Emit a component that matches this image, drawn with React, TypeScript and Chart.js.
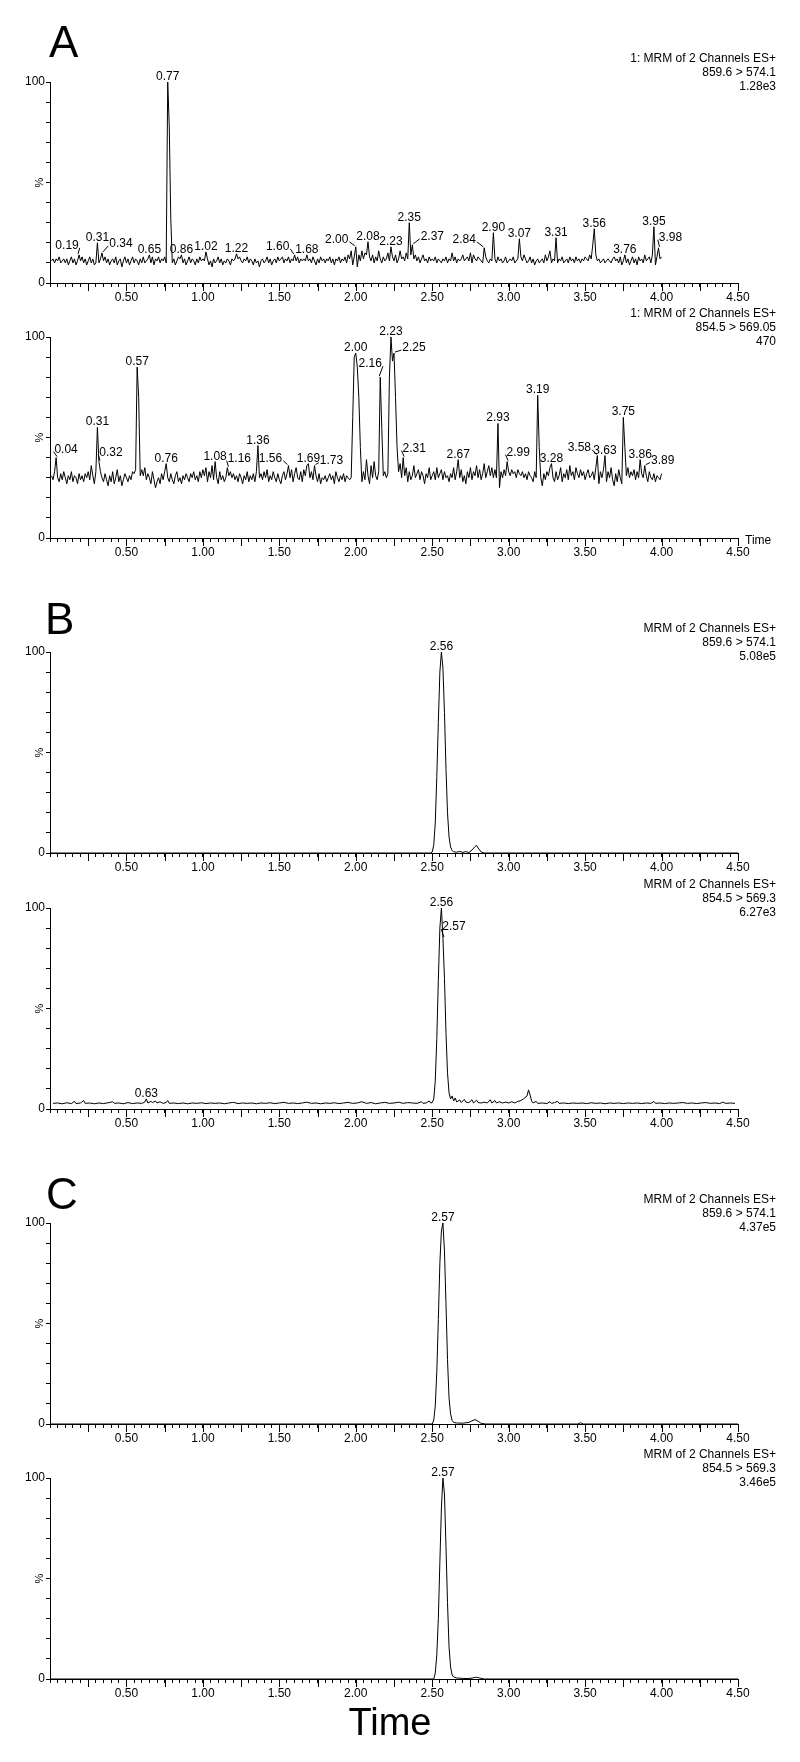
import React, { useEffect, useRef } from 'react';
import { Chart, registerables } from 'chart.js';

Chart.register(...registerables);

const FONT = '"Liberation Sans", Arial, Helvetica, sans-serif';

// ---------------- shared axes ----------------
const X_MIN = 0;
const X_MAX = 4.5;
const X_MINOR_STEP = 0.05;
const X_MID_STEP = 0.25;
const Y_MIN = 0;
const Y_MAX = 100;
const Y_STEP = 10;

// ---------------- panel A : sampled every 0.01 min, 0.01 .. 4.00 ----------------
const A_FIRST_TIME = 0.01;
const A_TIME_STEP = 0.01;

const A1_VALUES = [
  11, 12, 10, 12, 11, 13, 10, 11, 12, 10,
  12, 9, 11, 13, 10, 12, 9, 11, 14, 11,
  13, 10, 12, 9, 11, 13, 10, 12, 9, 10,
  20, 10, 12, 15, 11, 13, 10, 12, 9, 11,
  12, 10, 13, 9, 11, 12, 8, 11, 13, 10,
  12, 9, 11, 13, 10, 12, 11, 9, 12, 10,
  13, 10, 11, 12, 14, 10, 13, 9, 12, 11,
  13, 10, 12, 11, 13, 10, 100, 78, 32, 10,
  12, 9, 11, 13, 12, 14, 10, 12, 9, 11,
  13, 10, 12, 11, 9, 12, 10, 13, 11, 12,
  11, 15.5, 12, 9, 11, 8, 12, 10, 11, 13,
  10, 12, 9, 11, 10, 12, 11, 9, 12, 11,
  12, 14.5, 12, 13, 11, 10, 12, 11, 13, 10,
  12, 11, 9, 12, 10, 11, 8, 11, 12, 10,
  11, 13, 10, 12, 9, 11, 12, 10, 13, 11,
  12, 13, 10, 12, 11, 13, 10, 12, 11, 14,
  11, 13, 10, 12, 11, 12, 11, 14, 11, 12,
  10, 13, 11, 9, 12, 10, 13, 11, 12, 10,
  12, 11, 13, 10, 12, 9, 12, 11, 13, 10,
  12, 11, 13, 10, 14, 12, 16, 9, 13, 18,
  8, 14, 11, 16, 12, 15, 14, 20.5, 13, 11,
  14, 10, 13, 11, 16, 12, 10, 13, 11, 12,
  15, 11, 18, 13, 11, 14, 10, 12, 16, 12,
  13, 11, 15, 12, 30, 14, 19, 12, 14, 11,
  13, 10, 12, 14, 11, 12, 10, 13, 11, 12,
  11, 13, 10, 12, 11, 10, 12, 11, 13, 10,
  12, 11, 15, 11, 13, 10, 12, 11, 12, 14,
  11, 12, 13, 11, 15, 10, 14, 12, 11, 13,
  12, 11, 10, 17.5, 13, 11, 10, 12, 11, 25,
  12, 10, 13, 11, 12, 10, 11, 13, 10, 11,
  12, 11, 13, 10, 11, 12, 22, 13, 11, 14,
  12, 10, 11, 13, 10, 12, 9, 11, 12, 10,
  11, 12, 10, 14, 11, 13, 16, 10, 12, 11,
  22.5, 10, 12, 11, 13, 10, 11, 12, 10, 13,
  11, 12, 10, 13, 11, 12, 10, 12, 11, 13,
  12, 11, 14, 12, 19, 27, 14, 11, 12, 10,
  11, 12, 10, 11, 12, 11, 10, 12, 13, 11,
  12, 10, 13, 9, 11, 14, 10, 12, 9, 11,
  13, 10, 12, 9, 13, 11, 12, 10, 14, 11,
  12, 13, 10, 14, 28, 9, 13, 17.5, 12, 13,
];

const A2_VALUES = [
  31, 29, 33, 40, 30, 28, 32, 29, 33, 30,
  27, 31, 29, 33, 28, 31, 30, 27, 32, 29,
  31, 28, 32, 30, 33, 29, 36, 31, 27, 33,
  55, 38, 33, 30, 28, 32, 29, 26, 31, 28,
  33, 27, 30, 34, 28, 31, 26, 29, 32, 30,
  28, 31, 29, 33, 32, 34, 85, 70, 31, 34,
  31, 35, 29, 32, 30, 27, 33, 29, 25, 28,
  30, 27, 32, 29, 33, 37, 30, 28, 32, 29,
  27, 31, 33, 28, 30, 27, 31, 29, 32, 30,
  28, 32, 30, 33, 29, 31, 28, 33, 30, 34,
  31, 35, 28, 33, 30, 36, 29, 38, 30, 27,
  33, 29, 31, 28, 30, 35, 31, 33, 30, 32,
  29, 31, 28, 32, 30, 27, 31, 29, 33, 28,
  31, 29, 32, 28, 33, 46, 30, 32, 29, 33,
  30, 34, 28, 31, 29, 33, 30, 28, 32, 29,
  27, 31, 33, 29, 32, 36, 30, 34, 28, 32,
  35, 30, 29, 33, 28, 34, 31, 36, 37, 30,
  33, 29, 36, 31, 28, 32, 27, 30, 29, 31,
  28, 30, 32, 29, 31, 27, 33, 30, 28, 31,
  29, 32, 28, 31, 30, 29, 30, 60, 90, 92,
  85, 70, 45, 28, 33, 29, 39, 31, 27, 36,
  30, 38, 31, 29, 33, 80, 55, 31, 33, 30,
  32, 80, 100, 88, 92, 70, 45, 33, 37, 30,
  40, 31, 35, 28, 33, 29, 31, 36, 30, 32,
  34, 29, 33, 31, 27, 32, 30, 35, 29, 31,
  33, 29, 35, 30, 32, 34, 29, 33, 30, 31,
  28, 32, 30, 35, 29, 33, 39, 30, 34, 28,
  31, 27, 33, 30, 35, 29, 33, 31, 36, 30,
  34, 29, 32, 37, 30, 33, 36, 31, 35, 30,
  34, 30, 57, 25, 33, 30, 34, 31, 38, 33,
  31, 34, 32, 33, 30, 34, 32, 31, 33, 30,
  32, 29, 33, 31, 30, 28, 33, 30, 71, 45,
  30, 26, 32, 29, 33, 31, 35, 37, 30, 28,
  33, 29, 31, 35, 28, 32, 30, 34, 29, 36,
  31, 33, 29, 35, 32, 30, 34, 31, 33, 29,
  32, 34, 30, 31, 33, 29, 35, 41, 27, 33,
  30, 34, 41, 28, 33, 30, 35, 29, 26, 32,
  28, 34, 30, 27, 60, 45, 31, 35, 30, 33,
  31, 34, 29, 33, 30, 39, 32, 30, 36, 31,
  28, 33, 30, 29, 32, 28, 31, 30, 29, 32,
];

const A1_PEAK_LABELS = ['0.19', '0.31', '0.34', '0.65', '0.77', '0.86', '1.02', '1.22', '1.60', '1.68', '2.00', '2.08', '2.23', '2.35', '2.37', '2.84', '2.90', '3.07', '3.31', '3.56', '3.76', '3.95', '3.98'];
const A2_PEAK_LABELS = ['0.04', '0.31', '0.32', '0.57', '0.76', '1.08', '1.16', '1.36', '1.56', '1.69', '1.73', '2.00', '2.16', '2.23', '2.25', '2.31', '2.67', '2.93', '2.99', '3.19', '3.28', '3.58', '3.63', '3.75', '3.86', '3.89'];

const A1_INFO = ['1: MRM of 2 Channels ES+', '859.6 > 574.1', '1.28e3'];
const A2_INFO = ['1: MRM of 2 Channels ES+', '854.5 > 569.05', '470'];

// ---------------- panel B ----------------
const B1_TIMES = [0, 2.49, 2.50, 2.51, 2.52, 2.53, 2.54, 2.55, 2.56, 2.57, 2.58, 2.59, 2.60, 2.61, 2.62, 2.63, 2.64, 2.66, 2.68, 2.70, 2.72, 2.74, 2.76, 2.78, 2.79, 2.80, 2.82, 2.84, 4.5];
const B1_VALUES = [0, 0, 0.5, 4, 15, 38, 65, 90, 100, 92, 70, 42, 20, 8, 3, 1.2, 0.6, 0.4, 0.8, 0.3, 0.7, 0.2, 1.5, 3.2, 3.8, 2.5, 0.5, 0, 0];

const B2_TIMES = [
  0.02, 0.05, 0.08, 0.11, 0.14, 0.16, 0.17, 0.20, 0.22, 0.23,
  0.26, 0.29, 0.32, 0.35, 0.38, 0.41, 0.42, 0.45, 0.48, 0.51,
  0.54, 0.57, 0.60, 0.62, 0.63, 0.64, 0.66, 0.67, 0.69, 0.70,
  0.72, 0.74, 0.76, 0.77, 0.78, 0.81, 0.84, 0.87, 0.90, 0.93,
  0.96, 0.99, 1.02, 1.05, 1.08, 1.11, 1.14, 1.17, 1.20, 1.23,
  1.26, 1.29, 1.32, 1.35, 1.38, 1.41, 1.44, 1.47, 1.50, 1.53,
  1.56, 1.59, 1.62, 1.65, 1.68, 1.71, 1.74, 1.77, 1.80, 1.83,
  1.86, 1.89, 1.92, 1.95, 1.98, 2.01, 2.04, 2.07, 2.10, 2.13,
  2.16, 2.19, 2.22, 2.25, 2.28, 2.31, 2.34, 2.37, 2.40, 2.43,
  2.44, 2.46, 2.48, 2.49, 2.50, 2.51, 2.52, 2.53, 2.54, 2.55,
  2.56, 2.57, 2.58, 2.59, 2.60, 2.61, 2.62, 2.63, 2.64, 2.65,
  2.66, 2.68, 2.69, 2.71, 2.72, 2.74, 2.76, 2.77, 2.79, 2.80,
  2.82, 2.84, 2.86, 2.88, 2.89, 2.91, 2.92, 2.94, 2.96, 2.98,
  3.00, 3.02, 3.04, 3.06, 3.08, 3.10, 3.12, 3.13, 3.14, 3.15,
  3.16, 3.18, 3.19, 3.22, 3.25, 3.27, 3.28, 3.30, 3.32, 3.33,
  3.36, 3.39, 3.42, 3.45, 3.48, 3.51, 3.54, 3.57, 3.60, 3.63,
  3.66, 3.69, 3.72, 3.75, 3.78, 3.81, 3.84, 3.87, 3.90, 3.93,
  3.95, 3.96, 3.99, 4.02, 4.05, 4.08, 4.11, 4.14, 4.17, 4.20,
  4.23, 4.26, 4.29, 4.32, 4.35, 4.38, 4.40, 4.42, 4.45, 4.48,
];
const B2_VALUES = [
  2.8, 3.0, 2.6, 3.1, 2.7, 3.8, 2.7, 3.0, 4.2, 2.8,
  3.0, 2.6, 3.0, 2.7, 3.1, 3.6, 2.8, 3.0, 2.6, 3.2,
  2.7, 3.0, 2.8, 3.4, 5.0, 3.0, 3.8, 3.2, 4.0, 3.0,
  3.6, 2.8, 3.2, 4.2, 2.8, 3.0, 2.7, 3.0, 2.6, 3.0,
  2.8, 3.1, 2.7, 3.0, 2.8, 3.0, 2.6, 3.0, 3.3, 2.7,
  3.0, 2.8, 3.0, 2.6, 3.0, 2.8, 3.1, 2.7, 3.0, 3.3,
  2.8, 3.0, 2.7, 3.0, 3.4, 2.8, 3.0, 2.6, 3.0, 2.8,
  3.1, 2.7, 3.0, 3.3, 2.8, 3.0, 3.6, 2.8, 3.2, 2.6,
  3.0, 3.3, 2.8, 3.0, 3.4, 2.8, 3.2, 3.0, 2.8, 3.6,
  2.8, 3.0, 4.0, 3.0, 3.2, 5, 14, 35, 64, 90,
  100, 85, 65, 38, 18, 8, 5, 6.5, 4, 5.5,
  3.5, 4.5, 3.2, 4.8, 3.4, 3.2, 4.6, 3.0, 4.4, 3.2,
  3.0, 3.4, 3.0, 4.6, 3.0, 4.2, 3.0, 3.6, 3.0, 3.4,
  3.0, 3.6, 3.0, 3.8, 4.2, 5.2, 6.5, 9.5, 7.0, 4.0,
  3.0, 3.8, 2.8, 3.0, 2.7, 3.6, 2.8, 3.2, 3.8, 2.8,
  3.0, 2.7, 3.0, 2.8, 3.0, 2.7, 3.1, 2.8, 3.0, 2.6,
  3.0, 2.8, 3.0, 2.7, 3.0, 2.8, 3.0, 2.7, 3.0, 2.8,
  3.8, 2.8, 3.0, 2.7, 3.0, 2.8, 3.0, 3.2, 2.8, 3.0,
  2.7, 3.0, 3.2, 2.8, 3.0, 2.7, 3.4, 2.8, 3.0, 2.8,
];

const B1_PEAK_LABELS = ['2.56'];
const B2_PEAK_LABELS = ['0.63', '2.56', '2.57'];
const B1_INFO = ['MRM of 2 Channels ES+', '859.6 > 574.1', '5.08e5'];
const B2_INFO = ['MRM of 2 Channels ES+', '854.5 > 569.3', '6.27e3'];

// ---------------- panel C ----------------
const C1_TIMES = [0, 2.50, 2.51, 2.52, 2.53, 2.54, 2.55, 2.56, 2.57, 2.58, 2.59, 2.60, 2.61, 2.62, 2.63, 2.64, 2.66, 2.70, 2.74, 2.76, 2.78, 2.80, 2.82, 2.85, 3.45, 3.47, 3.49, 4.5];
const C1_VALUES = [0, 0, 2, 9, 26, 52, 80, 96, 100, 86, 60, 32, 13, 5, 1.8, 0.8, 0.5, 0.4, 0.8, 1.6, 2.2, 1.4, 0.3, 0, 0, 0.6, 0, 0];
const C2_TIMES = [0, 2.51, 2.52, 2.53, 2.54, 2.55, 2.56, 2.57, 2.58, 2.59, 2.60, 2.61, 2.62, 2.63, 2.64, 2.66, 2.70, 2.74, 2.77, 2.79, 2.81, 2.84, 4.5];
const C2_VALUES = [0, 0, 3, 12, 30, 58, 85, 100, 92, 66, 38, 16, 6, 2, 1, 0.5, 0.3, 0.2, 0.6, 0.9, 0.5, 0, 0];

const C1_PEAK_LABELS = ['2.57'];
const C2_PEAK_LABELS = ['2.57'];
const C1_INFO = ['MRM of 2 Channels ES+', '859.6 > 574.1', '4.37e5'];
const C2_INFO = ['MRM of 2 Channels ES+', '854.5 > 569.3', '3.46e5'];

// ---------------- label placement (styling, px nudges) ----------------
const A1_LABEL_DX = [-12, 0, 19, 0, 0, 0, 0, 0, -17, 0, -19, 0, 0, 0, 20, -20, 0, 0, 0, 0, 0, 0, 12];
const A1_LABEL_DY = [4, 0, 4, 0, 0, 0, 0, 0, 3, 0, 2, 0, 0, 0, 3, 3, 0, 0, 0, 0, 0, 0, 5];
const A2_LABEL_DX = [10, 0, 12, 0, 0, 0, 12, 0, -18, 0, 17, 0, -10, 0, 20, 11, 0, 0, 11, 0, 0, -18, 0, 0, 0, 18];
const A2_LABEL_DY = [3, 0, 4, 0, 0, 0, 4, 0, 2, 0, 0, 0, 8, 0, 0, 4, 0, 0, 4, 0, 0, 3, 0, 0, 0, 0];

// ---------------- layout ----------------
const PLOT_LEFT = 50;
const PLOT_RIGHT = 738;
const PLOT_H = 201;
const PAD_TOP = 36;
const PAD_BOTTOM = 26;
const CANVAS_W = 800;
const CANVAS_H = PAD_TOP + PLOT_H + PAD_BOTTOM;

type PanelSpec = {
  key: string;
  y100: number;
  times: number[];
  values: number[];
  labels: string[];
  dx: number[];
  dy: number[];
  info: string[];
};

const aTimes = (vals: number[]) => vals.map((_, i) => +(A_FIRST_TIME + i * A_TIME_STEP).toFixed(2));
const zeros = (n: number) => new Array(n).fill(0);

const PANELS: PanelSpec[] = [
  { key: 'A1', y100: 82, times: aTimes(A1_VALUES), values: A1_VALUES, labels: A1_PEAK_LABELS, dx: A1_LABEL_DX, dy: A1_LABEL_DY, info: A1_INFO },
  { key: 'A2', y100: 337, times: aTimes(A2_VALUES), values: A2_VALUES, labels: A2_PEAK_LABELS, dx: A2_LABEL_DX, dy: A2_LABEL_DY, info: A2_INFO },
  { key: 'B1', y100: 652, times: B1_TIMES, values: B1_VALUES, labels: B1_PEAK_LABELS, dx: zeros(1), dy: zeros(1), info: B1_INFO },
  { key: 'B2', y100: 908, times: B2_TIMES, values: B2_VALUES, labels: B2_PEAK_LABELS, dx: [0, 0, 11], dy: [0, 0, 6], info: B2_INFO },
  { key: 'C1', y100: 1223, times: C1_TIMES, values: C1_VALUES, labels: C1_PEAK_LABELS, dx: zeros(1), dy: zeros(1), info: C1_INFO },
  { key: 'C2', y100: 1478, times: C2_TIMES, values: C2_VALUES, labels: C2_PEAK_LABELS, dx: zeros(1), dy: zeros(1), info: C2_INFO },
];

function valueAt(times: number[], values: number[], t: number) {
  let best = 0;
  for (let i = 1; i < times.length; i++) {
    if (Math.abs(times[i] - t) < Math.abs(times[best] - t)) best = i;
  }
  return values[best];
}

function makeDecor(p: PanelSpec) {
  return {
    id: 'decor-' + p.key,
    afterDraw(chart: any) {
      const ctx: CanvasRenderingContext2D = chart.ctx;
      const xs = chart.scales.x;
      const ys = chart.scales.y;
      const area = chart.chartArea;
      ctx.save();
      // longer tick marks every 0.25 min
      ctx.strokeStyle = '#000';
      ctx.lineWidth = 1;
      ctx.beginPath();
      for (let k = 1; k * X_MID_STEP <= X_MAX + 1e-9; k++) {
        const x = Math.round(xs.getPixelForValue(k * X_MID_STEP)) + 0.5;
        ctx.moveTo(x, area.bottom);
        ctx.lineTo(x, area.bottom + 8);
      }
      ctx.stroke();
      // rotated % axis label
      ctx.fillStyle = '#000';
      ctx.font = `11px ${FONT}`;
      ctx.translate(40, (area.top + area.bottom) / 2);
      ctx.rotate(-Math.PI / 2);
      ctx.textAlign = 'center';
      ctx.textBaseline = 'middle';
      ctx.fillText('%', 0, 0);
      ctx.restore();

      // peak labels
      ctx.save();
      ctx.font = `12px ${FONT}`;
      ctx.fillStyle = '#000';
      ctx.strokeStyle = '#000';
      ctx.lineWidth = 1;
      ctx.textAlign = 'center';
      ctx.textBaseline = 'alphabetic';
      p.labels.forEach((lab, i) => {
        const t = parseFloat(lab);
        const v = valueAt(p.times, p.values, t);
        const px = xs.getPixelForValue(t);
        const py = ys.getPixelForValue(v);
        const dx = p.dx[i] || 0;
        const dy = p.dy[i] || 0;
        const cx = px + dx;
        const by = py - 2 - dy;
        ctx.fillText(lab, cx, by);
        if (Math.abs(dx) >= 10) {
          const w = ctx.measureText(lab).width;
          const sx = dx > 0 ? cx - w / 2 - 1 : cx + w / 2 + 1;
          ctx.beginPath();
          ctx.moveTo(sx, by - 1);
          ctx.lineTo(px + (dx > 0 ? 1 : -1), py - 1);
          ctx.stroke();
        }
      });
      ctx.restore();
    },
  };
}

function PanelChart({ p }: { p: PanelSpec }) {
  const ref = useRef<HTMLCanvasElement>(null);
  useEffect(() => {
    const canvas = ref.current;
    if (!canvas) return;
    const points = p.times.map((t, i) => ({ x: t, y: p.values[i] }));
    const chart = new Chart(canvas, {
      type: 'line',
      data: {
        datasets: [
          {
            data: points,
            borderColor: '#000',
            borderWidth: 1,
            pointRadius: 0,
            tension: 0,
            fill: false,
          },
        ],
      },
      options: {
        responsive: false,
        maintainAspectRatio: false,
        animation: false,
        devicePixelRatio: 1,
        events: [],
        layout: { padding: { top: PAD_TOP, right: CANVAS_W - PLOT_RIGHT, left: 0, bottom: 0 } },
        plugins: { legend: { display: false }, tooltip: { enabled: false }, title: { display: false } },
        scales: {
          x: {
            type: 'linear',
            min: X_MIN,
            max: X_MAX,
            afterFit: (s: any) => {
              s.height = PAD_BOTTOM;
            },
            ticks: {
              stepSize: X_MINOR_STEP,
              autoSkip: false,
              maxRotation: 0,
              minRotation: 0,
              padding: 3,
              color: '#000',
              font: { family: FONT, size: 12 },
              callback: (v: any) => {
                const c = Math.round(Number(v) * 100);
                return c > 0 && c % 50 === 0 ? (c / 100).toFixed(2) : '';
              },
            },
            grid: { drawOnChartArea: false, drawTicks: true, tickLength: 4, tickColor: '#000', tickWidth: 1 },
            border: { display: true, color: '#000', width: 1 },
          },
          y: {
            type: 'linear',
            min: Y_MIN,
            max: Y_MAX,
            afterFit: (s: any) => {
              s.width = PLOT_LEFT;
            },
            ticks: {
              stepSize: Y_STEP,
              autoSkip: false,
              padding: 1,
              color: '#000',
              font: { family: FONT, size: 12 },
              callback: (v: any) => (Number(v) === 100 ? '100' : Number(v) === 0 ? '0' : ''),
            },
            grid: { drawOnChartArea: false, drawTicks: true, tickLength: 4, tickColor: '#000', tickWidth: 1 },
            border: { display: true, color: '#000', width: 1 },
          },
        },
      },
      plugins: [makeDecor(p)],
    } as any);
    return () => chart.destroy();
  }, [p]);
  return (
    <canvas
      ref={ref}
      width={CANVAS_W}
      height={CANVAS_H}
      style={{ position: 'absolute', left: 0, top: p.y100 - PAD_TOP, width: CANVAS_W, height: CANVAS_H }}
    />
  );
}

const LETTERS = [
  { text: 'A', left: 49, baseline: 57 },
  { text: 'B', left: 45, baseline: 634 },
  { text: 'C', left: 46, baseline: 1209 },
];

export default function App() {
  return (
    <div
      style={{
        position: 'absolute',
        left: 0,
        top: 0,
        width: 800,
        height: 1762,
        background: '#fff',
        fontFamily: FONT,
        color: '#000',
        overflow: 'hidden',
      }}
    >
      {PANELS.map((p) => (
        <PanelChart key={p.key} p={p} />
      ))}
      {PANELS.map((p) => (
        <div
          key={'info-' + p.key}
          style={{
            position: 'absolute',
            right: 24,
            top: p.y100 - 24 - 7,
            textAlign: 'right',
            fontSize: 12,
            lineHeight: '14px',
            whiteSpace: 'pre',
          }}
        >
          {p.info.map((line, i) => (
            <div key={i}>{line}</div>
          ))}
        </div>
      ))}
      {LETTERS.map((l) => (
        <div
          key={l.text}
          style={{
            position: 'absolute',
            left: l.left,
            top: l.baseline - 37,
            fontSize: 44,
            lineHeight: '44px',
          }}
        >
          {l.text}
        </div>
      ))}
      <div style={{ position: 'absolute', left: 745, top: 533, fontSize: 12, lineHeight: '14px' }}>Time</div>
      <div
        style={{
          position: 'absolute',
          left: 290,
          width: 200,
          top: 1703,
          textAlign: 'center',
          fontSize: 38,
          lineHeight: '38px',
        }}
      >
        Time
      </div>
    </div>
  );
}
